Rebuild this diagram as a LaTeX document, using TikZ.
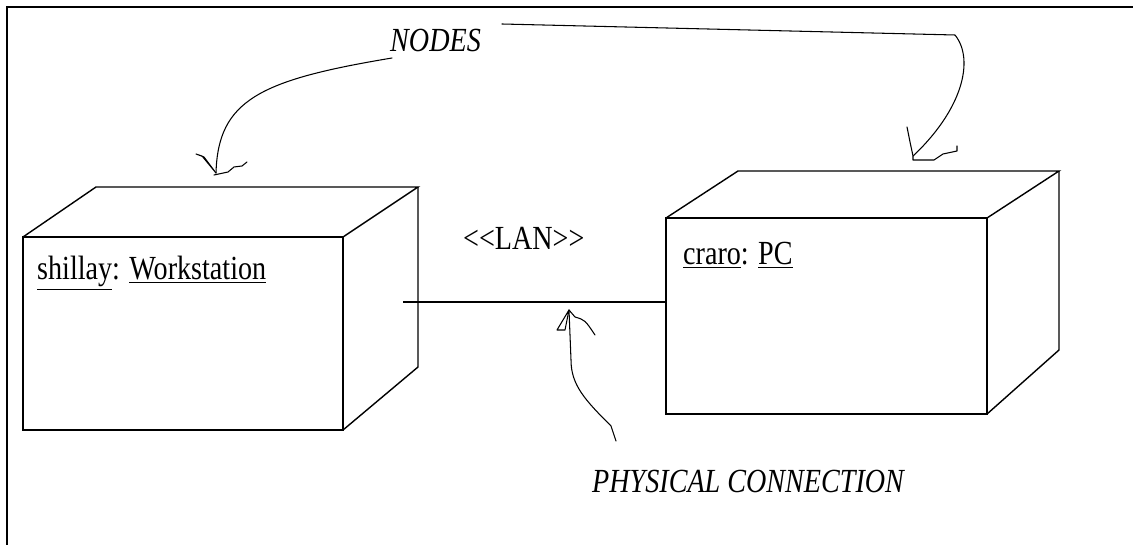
\documentclass[tikz,border=0pt]{standalone}
\usepackage{fontspec}
\setmainfont{Liberation Serif}
\usepackage{tikz}
\usetikzlibrary{positioning, calc}
\definecolor{inkblack}{RGB}{0,0,0}
\tikzset{
  cubeface/.style = {draw=inkblack, line width=1.2pt, inner sep=0pt, outer sep=0pt,
                     anchor=north west},
  cubeedge/.style = {draw=inkblack, line width=1.2pt},
  nametext/.style = {font=\fontsize{24}{28}\selectfont, inner sep=0pt, anchor=base west},
  notetext/.style = {font=\fontsize{24}{28}\selectfont\itshape, inner sep=0pt, anchor=base west},
  hand/.style     = {draw=inkblack, line width=0.9pt, line join=round, line cap=round},
  wire/.style     = {draw=inkblack, line width=1.4pt},
  frame/.style    = {draw=inkblack, line width=2pt},
}
\newcommand{\tallbox}[1]{\scalebox{1}[1.2]{#1}}

\begin{document}
\begin{tikzpicture}[x=0.03cm, y=-0.03cm]
  \useasboundingbox (0,0) rectangle (1133,545);
  \draw[frame] (7,545) -- (7,7) -- (1133,7);

  % workstation cube
  \node[cubeface, minimum width=9.6cm, minimum height=5.79cm] (ws) at (23,237) {};
  \coordinate (wsback) at (418,187);
  \draw[cubeedge] (ws.north west) -- ++(73,-50) -- (wsback) -- (ws.north east);
  \draw[cubeedge] (wsback) -- ++(0,180) -- (ws.south east);
  \node[nametext] (wsname) at (37,280) {\tallbox{\underline{shillay}: \underline{Workstation}}};

  % pc cube
  \node[cubeface, minimum width=9.63cm, minimum height=5.88cm] (pc) at (666,218) {};
  \coordinate (pcback) at (1059,171);
  \draw[cubeedge] (pc.north west) -- ++(72,-47) -- (pcback) -- (pc.north east);
  \draw[cubeedge] (pcback) -- ++(0,179) -- (pc.south east);
  \node[nametext] (pcname) at (683,265) {\tallbox{\underline{craro}: \underline{PC}}};

  % LAN link
  \coordinate (lanend) at (403,302);
  \draw[wire] (lanend) -- (lanend -| pc.west);
  \node[nametext] (lan) at (463,250) {\tallbox{<{}<LAN>{}>}};

  % notes
  \node[notetext] (nodes) at (390,52) {\tallbox{NODES}};
  \node[notetext] (phys) at (592,492) {\tallbox{PHYSICAL CONNECTION}};

  \coordinate (n1) at (392,58);
  \coordinate (n1tip) at (216,173);
  \draw[hand] (n1) .. controls (260,80) and (218,100) .. (n1tip);
  \draw[hand] (n1tip) ++(-20,-19) -- ++(6,2) -- ++(14,17) -- ++(-12,-16) -- ++(-8,-3);
  \draw[hand] (n1tip) ++(-2,2) -- ++(14,-3) -- ++(6,-5) -- ++(8,-1) -- ++(5,-4);

  \coordinate (n2) at (502,24);
  \coordinate (n2tip) at (913,156);
  \draw[hand] (n2) -- (955,35) .. controls (975,60) and (962,110) .. (n2tip);
  \draw[hand] (907,127) -- (910,142) -- (n2tip) -- (913,160) -- (934,160)
              -- (943,154) -- (957,151) -- (957,146);

  \coordinate (p1) at (616,441);
  \coordinate (p1tip) at (569,310);
  \draw[hand] (p1) -- (611,426) .. controls (585,400) and (571,385) .. (571,360) -- (p1tip);
  \draw[hand] (p1tip) -- (557,330) -- (565,330) -- cycle;
  \draw[hand] (p1tip) -- (575,317) .. controls (585,320) .. (595,335);
\end{tikzpicture}
\end{document}
